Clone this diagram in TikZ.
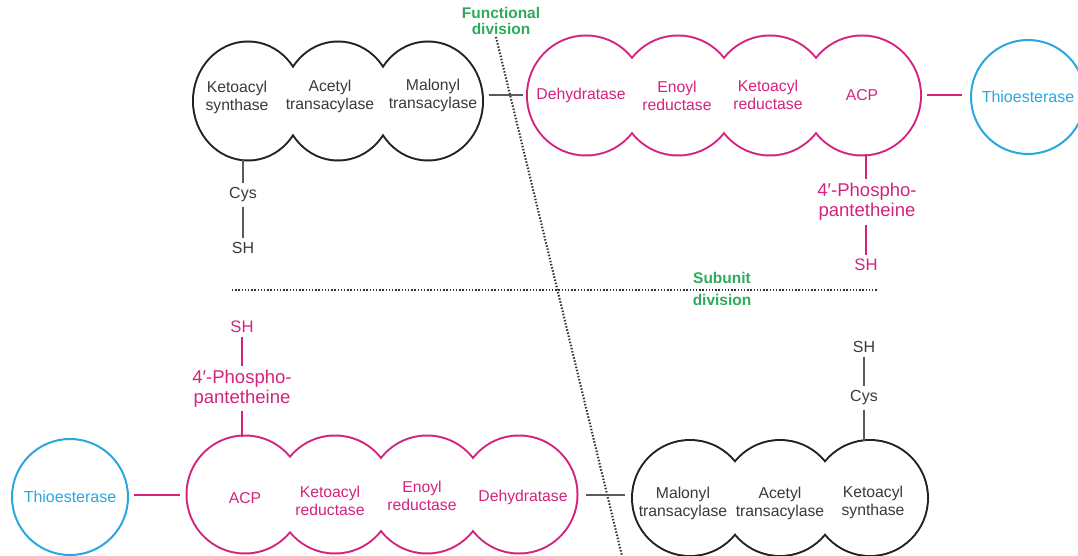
\documentclass[tikz,border=0pt]{standalone}
\usepackage{fontspec}
\setmainfont{Liberation Sans}
\usetikzlibrary{shapes.geometric}
\definecolor{fpink}{HTML}{D4237E}
\definecolor{fcyan}{HTML}{2AA7DF}
\definecolor{fgreen}{HTML}{2EAA5C}
\definecolor{okblack}{HTML}{222222}
\definecolor{congray}{HTML}{5A5A5A}
\definecolor{txtgray}{HTML}{3A3A3A}
\definecolor{dotgray}{HTML}{333333}
\begin{document}
\begin{tikzpicture}[x=0.75pt,y=-0.75pt,
  lobebase/.style={ellipse, inner sep=0pt, outer sep=0pt},
  outK/.style={lobebase, draw=okblack, line width=3pt},
  outP/.style={lobebase, draw=fpink, line width=3pt},
  blank/.style={lobebase, fill=white},
  szTK/.style={minimum width=81pt, minimum height=87.75pt},
  szTP/.style={minimum width=87pt, minimum height=88.5pt},
  szBP/.style={minimum width=86.25pt, minimum height=87pt},
  szBK/.style={minimum width=85.5pt, minimum height=85.5pt},
  ktext/.style={text=txtgray, font=\fontsize{11.8}{13.5}\selectfont, align=center, inner sep=0pt},
  ptext/.style={ktext, text=fpink},
  chainK/.style={text=txtgray, font=\fontsize{12}{14}\selectfont, inner sep=3pt},
  chainP/.style={text=fpink, font=\fontsize{12.5}{14}\selectfont, inner sep=3pt},
  phos/.style={text=fpink, font=\fontsize{13.9}{15}\selectfont, align=center, inner sep=3pt},
  thio/.style={circle, draw=fcyan, line width=1.5pt, text=fcyan, font=\fontsize{12}{14}\selectfont, inner sep=0pt},
  glabel/.style={text=fgreen, font=\bfseries\fontsize{11.6}{12}\selectfont, align=center, inner sep=0pt},
  conK/.style={draw=congray, line width=1.5pt},
  conP/.style={draw=fpink, line width=1.5pt},
  divline/.style={draw=dotgray, line width=1.6pt, dash pattern=on 1.1pt off 1.3pt}
]
\useasboundingbox (0,0) rectangle (1078,556);

% ---------- division lines ----------
\coordinate (fd1) at (496,37);
\coordinate (fd2) at (623,560);
\coordinate (sd1) at (232,290);
\coordinate (sd2) at (878,290);
\draw[divline] (fd1) -- (fd2);
\draw[divline] (sd1) -- (sd2);

% ---------- top black group ----------
\node[outK,szTK] (tb1) at (248,101) {};
\node[outK,szTK] (tb2) at (338,101) {};
\node[outK,szTK] (tb3) at (428,101) {};
\foreach \n in {tb1,tb2,tb3} \node[blank,szTK] at (\n) {};

% ---------- top pink group ----------
\node[outP,szTP] (tp1) at (586,95.5) {};
\node[outP,szTP] (tp2) at (678,95.5) {};
\node[outP,szTP] (tp3) at (770,95.5) {};
\node[outP,szTP] (tp4) at (862,95.5) {};
\foreach \n in {tp1,tp2,tp3,tp4} \node[blank,szTP] at (\n) {};

% ---------- bottom pink group ----------
\node[outP,szBP] (bp1) at (245,494.5) {};
\node[outP,szBP] (bp2) at (335,494.5) {};
\node[outP,szBP] (bp3) at (427,494.5) {};
\node[outP,szBP] (bp4) at (519,494.5) {};
\foreach \n in {bp1,bp2,bp3,bp4} \node[blank,szBP] at (\n) {};

% ---------- bottom black group ----------
\node[outK,szBK] (bk1) at (690,498) {};
\node[outK,szBK] (bk2) at (780,498) {};
\node[outK,szBK] (bk3) at (870,498) {};
\foreach \n in {bk1,bk2,bk3} \node[blank,szBK] at (\n) {};

% ---------- lobe texts ----------
\node[ktext] (tb1t) at (237,97) {Ketoacyl\\synthase};
\node[ktext] (tb2t) at (330,96.5) {Acetyl\\transacylase};
\node[ktext] (tb3t) at (433,95.5) {Malonyl\\transacylase};

\node[ptext] (tp1t) at (581,95) {Dehydratase};
\node[ptext] (tp2t) at (677,96) {Enoyl\\reductase};
\node[ptext] (tp3t) at (768,95) {Ketoacyl\\reductase};
\node[ptext] (tp4t) at (862,95) {ACP};

\node[ptext] (bp1t) at (245,498) {ACP};
\node[ptext] (bp2t) at (330,501) {Ketoacyl\\reductase};
\node[ptext] (bp3t) at (422,496) {Enoyl\\reductase};
\node[ptext] (bp4t) at (523,497) {Dehydratase};

\node[ktext] (bk1t) at (683,503) {Malonyl\\transacylase};
\node[ktext] (bk2t) at (780,503) {Acetyl\\transacylase};
\node[ktext] (bk3t) at (873,502) {Ketoacyl\\synthase};

% ---------- thioesterases ----------
\node[thio, minimum size=85.5pt] (th1) at (1028,97) {Thioesterase};
\node[thio, minimum size=87pt] (th2) at (70,497) {Thioesterase};

% ---------- side chains ----------
\node[chainK] (cys1) at (243,195) {Cys};
\node[chainK] (sh1) at (243,248) {SH};
\node[phos] (ph1) at (867,202) {4′-Phospho-\\pantetheine};
\node[chainP] (sh2) at (866,265) {SH};
\node[chainP] (sh3) at (242,327) {SH};
\node[phos] (ph2) at (242,388.5) {4′-Phospho-\\pantetheine};
\node[chainK] (sh4) at (864,347) {SH};
\node[chainK] (cys2) at (864,398) {Cys};

% ---------- connectors ----------
\draw[conK, shorten <=5pt, shorten >=4pt] (tb3.east |- tp1.west) -- (tp1.west);
\draw[conP, shorten <=5pt, shorten >=6pt] (tp4.east) -- (tp4.east -| th1.west);
\draw[conK, shorten <=7pt, shorten >=6pt] (bp4.east) -- (bp4.east -| bk1.west);
\draw[conP, shorten <=4pt, shorten >=6pt] (th2.east |- bp1.west) -- (bp1.west);

\draw[conK] (cys1.north |- tb1.south) -- (cys1.north);
\draw[conK] (cys1.south) -- (sh1.north);
\draw[conP] (sh2.north |- tp4.south) -- (sh2.north |- ph1.north);
\draw[conP] (sh2.north |- ph1.south) -- (sh2.north);
\draw[conP] (sh3.south) -- (ph2.north);
\draw[conP] (ph2.south) -- (ph2.south |- bp1.north);
\draw[conK] (sh4.south) -- (cys2.north);
\draw[conK] (cys2.south) -- (cys2.south |- bk3.north);

% ---------- division labels ----------
\node[glabel] (fdl) at (501,21) {Functional\\division};
\node[glabel] (sdl1) at (722,278) {Subunit};
\node[glabel] (sdl2) at (722,300) {division};
\end{tikzpicture}
\end{document}
